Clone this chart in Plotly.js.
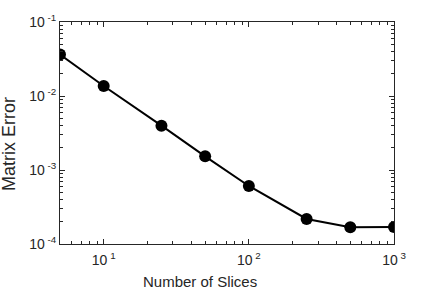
<!DOCTYPE html>
<html><head><meta charset="utf-8">
<script src="https://cdn.plot.ly/plotly-3.0.1.min.js"></script>
<style>html,body{margin:0;padding:0;background:#fff}#plot{width:436px;height:291px}</style>
</head><body><div id="plot"></div>
<script>
const slices = [5, 10, 25, 50, 100, 250, 500, 1000];
const matrixError = [0.0364, 0.01365, 0.00397, 0.00153, 0.000608, 0.000218, 0.000168, 0.000170];
const xTickVals = [10, 100, 1000];
const xTickText = ["10<sup> 1</sup>", "10<sup> 2</sup>", "10<sup> 3</sup>"];
const yTickVals = [1e-4, 1e-3, 1e-2, 1e-1];
const yTickText = ["10<sup> -4</sup>", "10<sup> -3</sup>", "10<sup> -2</sup>", "10<sup> -1</sup>"];
const xMinorVals = [6, 7, 8, 9, 20, 30, 40, 50, 60, 70, 80, 90, 200, 300, 400, 500, 600, 700, 800, 900];
const yMinorVals = [2e-4, 3e-4, 4e-4, 5e-4, 6e-4, 7e-4, 8e-4, 9e-4,
                    2e-3, 3e-3, 4e-3, 5e-3, 6e-3, 7e-3, 8e-3, 9e-3,
                    2e-2, 3e-2, 4e-2, 5e-2, 6e-2, 7e-2, 8e-2, 9e-2];
const xTitle = "Number of Slices";
const yTitle = "Matrix Error";

const ink = "#262626";
const fam = "Liberation Sans, Arial, Helvetica, sans-serif";
const font = {family: fam, size: 14, color: ink};
const xRange = [Math.log10(5), 3];
const yRange = [-4, -1];
const base = {
  type: "log", showgrid: false, zeroline: false,
  showline: true, linecolor: ink, linewidth: 1, mirror: "ticks",
  ticks: "inside", tickcolor: ink, tickwidth: 1, tickmode: "array"
};
const data = [{
  x: slices, y: matrixError, type: "scatter", mode: "lines+markers",
  line: {color: "#000", width: 2},
  marker: {color: "#000", size: 12},
  hoverinfo: "none"
}, {
  x: [slices[0]], y: [matrixError[0]], xaxis: "x2", yaxis: "y2",
  type: "scatter", mode: "markers", marker: {opacity: 0}, hoverinfo: "none"
}];
const layout = {
  width: 436, height: 291,
  margin: {l: 60, r: 42, t: 22, b: 47},
  paper_bgcolor: "#fff", plot_bgcolor: "#fff",
  showlegend: false,
  font: font,
  xaxis: Object.assign({}, base, {
    range: xRange, ticklen: 5, tickvals: xTickVals, ticktext: xTickText, tickfont: font,
    ticklabelstandoff: 3
  }),
  yaxis: Object.assign({}, base, {
    range: yRange, ticklen: 5, tickvals: yTickVals, ticktext: yTickText, tickfont: font
  }),
  xaxis2: Object.assign({}, base, {
    overlaying: "x", side: "bottom", anchor: "y2",
    range: xRange, ticklen: 3, tickvals: xMinorVals, showticklabels: false
  }),
  yaxis2: Object.assign({}, base, {
    overlaying: "y", side: "left", anchor: "x2",
    range: yRange, ticklen: 3, tickvals: yMinorVals, showticklabels: false
  }),
  annotations: [
    {text: xTitle, xref: "paper", yref: "paper", x: 0.42, y: 0, yshift: -37,
     xanchor: "center", yanchor: "middle", showarrow: false, font: {family: fam, size: 15, color: ink}},
    {text: yTitle, xref: "paper", yref: "paper", x: 0, y: 0.45, xshift: -51,
     xanchor: "center", yanchor: "middle", textangle: -90, showarrow: false,
     font: {family: fam, size: 18, color: ink}}
  ]
};
Plotly.newPlot("plot", data, layout, {staticPlot: true});
</script>
</body></html>
